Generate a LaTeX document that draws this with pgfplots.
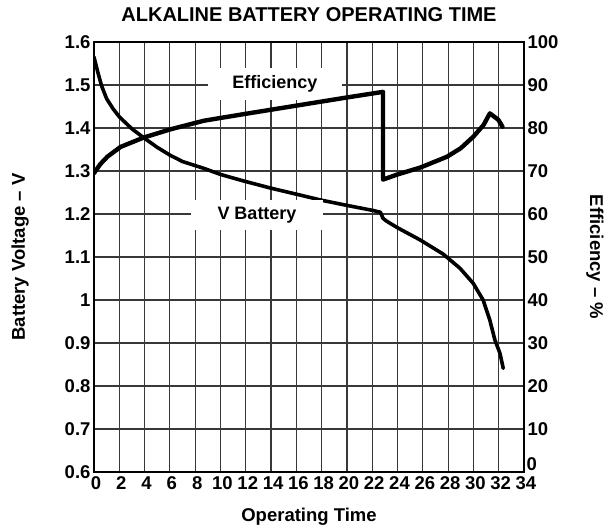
\documentclass[border=0pt]{standalone}
\usepackage{fontspec}
\setmainfont{Liberation Sans}
\usepackage{pgfplots}
\pgfplotsset{compat=1.18}
\newcommand{\tkf}[1]{\fontsize{18.5}{19}\selectfont\textbf{#1}}
\begin{document}
\begin{tikzpicture}
\pgfplotsset{
  common/.style={
    scale only axis, width=430pt, height=430pt,
    xmin=0, xmax=34,
    major tick length=0pt,
    /pgf/number format/assume math mode=true,
    xticklabel={\tkf{\pgfmathprintnumber{\tick}}},
    yticklabel={\tkf{\pgfmathprintnumber{\tick}}},
    tick label style={text=black},
    label style={font=\fontsize{18.5}{19}\selectfont\bfseries},
    axis line style={line width=2.6pt, black},
  }
}
\begin{axis}[common,
  ymin=0.6, ymax=1.6,
  xtick={0,2,4,6,8,10,12,14,16,18,20,22,24,26,28,30,32,34},
  ytick={0.6,0.7,0.8,0.9,1,1.1,1.2,1.3,1.4,1.5,1.6},
  grid=major,
  major grid style={line width=1.2pt, black!78},
  xticklabel style={yshift=-1pt, xshift=2pt},
  title={ALKALINE BATTERY OPERATING TIME},
  title style={font=\fontsize{20}{20}\selectfont\bfseries, at={(axis description cs:0.5,1.049)}, anchor=center},
  xlabel={Operating Time},
  xlabel style={at={(axis description cs:0.5,-0.103)}, anchor=center},
  ylabel={Battery Voltage -- V},
  ylabel style={at={(axis description cs:-0.172,0.5)}, anchor=center, rotate=0},
]
\coordinate (ll) at (rel axis cs:0,0);
\addplot[line width=3.6pt, black, line join=round, line cap=round] coordinates {
 (0,1.565) (0.3,1.53) (0.6,1.498) (1.0,1.468) (1.5,1.445) (2.0,1.426) (3.0,1.398) (4.0,1.376)
 (5.0,1.355) (6.0,1.337) (7.0,1.322) (8.7,1.306) (10,1.292) (11.8,1.277)
 (14,1.26) (16.3,1.244) (18,1.232) (20,1.220) (22.1,1.208) (22.65,1.204)
 (22.85,1.19) (23.1,1.184) (24,1.168) (25.77,1.14) (27.6,1.107) (28.93,1.074)
 (29.98,1.039) (30.77,1.0) (31.3,0.953) (31.7,0.907) (32.1,0.876) (32.36,0.841)
};
\node[fill=white, minimum width=134pt, minimum height=32pt, inner sep=0pt,
      font=\fontsize{18}{18}\selectfont\bfseries] at (axis cs:14.31,1.502) {Efficiency};
\node[fill=white, minimum width=132pt, minimum height=30pt, inner sep=0pt,
      font=\fontsize{18}{18}\selectfont\bfseries] at (axis cs:12.89,1.198) {V Battery};
\end{axis}
\begin{axis}[common,
  ymin=0, ymax=100,
  axis y line*=right, axis x line=none,
  ytick={10,20,30,40,50,60,70,80,90,100},
  extra y ticks={0},
  extra y tick style={yticklabel style={yshift=8pt, xshift=-1pt}},
  ylabel={Efficiency -- \%},
  ylabel style={at={(axis description cs:1.165,0.5)}, anchor=center, rotate=180},
]
\addplot[line width=4.4pt, black, line join=round, line cap=round] coordinates {
 (0,69.5) (0.5,71.6) (1.05,73.3) (2.1,75.6) (3.95,77.8) (6.06,79.7) (8.7,81.7)
 (12,83.3) (16,85.2) (20,87.1) (22.85,88.4)
 (22.85,68.0) (24,69.2) (25.8,70.8) (27.9,73.3) (29,75.3) (30,78)
 (30.8,80.7) (31.3,83.4) (31.97,81.9) (32.3,80.3)
};
\end{axis}
\path[use as bounding box] ([shift={(-94pt,-53pt)}]ll) rectangle ++(616pt,525pt);
\end{tikzpicture}
\end{document}
